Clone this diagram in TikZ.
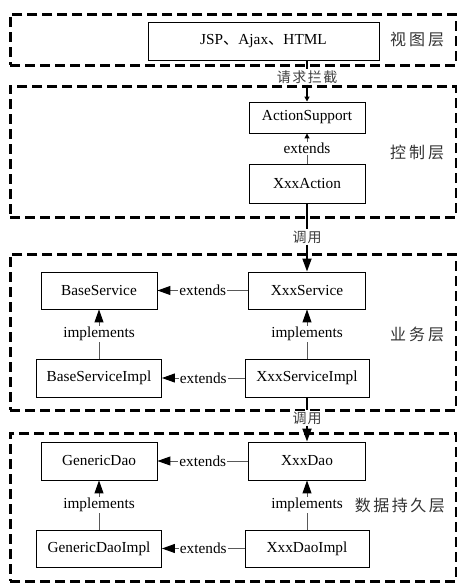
\documentclass[tikz,border=0pt]{standalone}
\usepackage{fontspec}
\setmainfont{Liberation Serif}
\newfontfamily\cjk{Noto Sans CJK SC}
\usetikzlibrary{arrows.meta}
\begin{document}
\begin{tikzpicture}[x=1pt,y=-1pt,
  layer/.style={draw=black, line width=2.6pt, dash pattern=on 10pt off 5pt, inner sep=0pt, anchor=north west},
  box/.style={draw=black, line width=0.9pt, inner sep=0pt, fill=white, font=\fontsize{15.3}{18}\selectfont},
  rel/.style={draw=black!65, line width=1pt},
  conn/.style={draw=black, line width=1.8pt},
  bigtip/.style={-{Triangle[length=13pt,width=9pt,color=black]}},
  smalltip/.style={-{Triangle[length=5pt,width=5pt,color=black]}},
  lbl/.style={fill=white, inner sep=1pt, font=\fontsize{15.3}{18}\selectfont},
  layerlbl/.style={font=\cjk\fontsize{16}{18}\selectfont, text=black!80, inner sep=0pt},
  clbl/.style={fill=white, inner sep=1pt, font=\cjk\fontsize{14}{16}\selectfont, text=black!75}]
\useasboundingbox (0,0) rectangle (456,585);
% layers
\node[layer, minimum width=445.5pt, minimum height=51pt] (L1) at (9,13) {};
\node[layer, minimum width=445.5pt, minimum height=131pt] (L2) at (9,85) {};
\node[layer, minimum width=445.5pt, minimum height=156pt] (L3) at (9,253) {};
\node[layer, minimum width=445.5pt, minimum height=148pt] (L4) at (9,432) {};
% layer labels
\node[layerlbl] (t1) at (417,40) {视\hspace{3pt}图\hspace{3pt}层};
\node[layerlbl] (t2) at (417,152) {控\hspace{3pt}制\hspace{3pt}层};
\node[layerlbl] (t3) at (417,334) {业\hspace{3pt}务\hspace{3pt}层};
\node[layerlbl, anchor=east] (t4) at (445,505) {数\hspace{2.5pt}据\hspace{2.5pt}持\hspace{2.5pt}久\hspace{2.5pt}层};
% boxes
\node[box, minimum width=231pt, minimum height=38pt] (jsp) at (263.5,41) {JSP{\cjk 、}Ajax{\cjk 、}HTML};
\node[box, minimum width=116pt, minimum height=31pt] (as) at (307,117.5) {ActionSupport};
\node[box, minimum width=116pt, minimum height=39pt] (xa) at (307,183.5) {XxxAction};
\node[box, minimum width=116pt, minimum height=37pt] (bs) at (99,290.5) {BaseService};
\node[box, minimum width=117pt, minimum height=37pt] (xs) at (307,290.5) {XxxService};
\node[box, minimum width=125pt, minimum height=38pt] (bsi) at (99,378) {BaseServiceImpl};
\node[box, minimum width=124pt, minimum height=38pt] (xsi) at (307,378) {XxxServiceImpl};
\node[box, minimum width=116pt, minimum height=38pt] (gd) at (99,461) {GenericDao};
\node[box, minimum width=117pt, minimum height=38pt] (xd) at (307,461) {XxxDao};
\node[box, minimum width=125pt, minimum height=37pt] (gdi) at (99,548.5) {GenericDaoImpl};
\node[box, minimum width=124pt, minimum height=37pt] (xdi) at (307,548.5) {XxxDaoImpl};
% connector labels between layers
\node[clbl] (c1) at (307,77) {请\hspace{1.5pt}求\hspace{1.5pt}拦\hspace{1.5pt}截};
\node[clbl] (c2) at (307,237) {调\hspace{1pt}用};
\node[clbl] (c3) at (307,418) {调\hspace{1pt}用};
% between layers
\draw[conn] (jsp.south -| c1) -- (c1.north);
\draw[conn, smalltip] (c1.south) -- (as.north);
\draw[conn] (xa.south) -- (c2.north);
\draw[conn, bigtip] (c2.south) -- (xs.north);
\draw[conn] (xsi.south) -- (c3.north);
\draw[conn, bigtip] (c3.south) -- (xd.north);
% within layers
\draw[rel, smalltip] (xa.north) -- node[lbl] {extends} (as.south);
\draw[rel, bigtip] (xs.west) -- node[lbl] {extends} (bs.east);
\draw[rel, bigtip] (xsi.west) -- node[lbl] {extends} (bsi.east);
\draw[rel, bigtip] (bsi.north) -- node[lbl] {implements} (bs.south);
\draw[rel, bigtip] (xsi.north) -- node[lbl] {implements} (xs.south);
\draw[rel, bigtip] (xd.west) -- node[lbl] {extends} (gd.east);
\draw[rel, bigtip] (xdi.west) -- node[lbl] {extends} (gdi.east);
\draw[rel, bigtip] (gdi.north) -- node[lbl] {implements} (gd.south);
\draw[rel, bigtip] (xdi.north) -- node[lbl] {implements} (xd.south);
\end{tikzpicture}
\end{document}
